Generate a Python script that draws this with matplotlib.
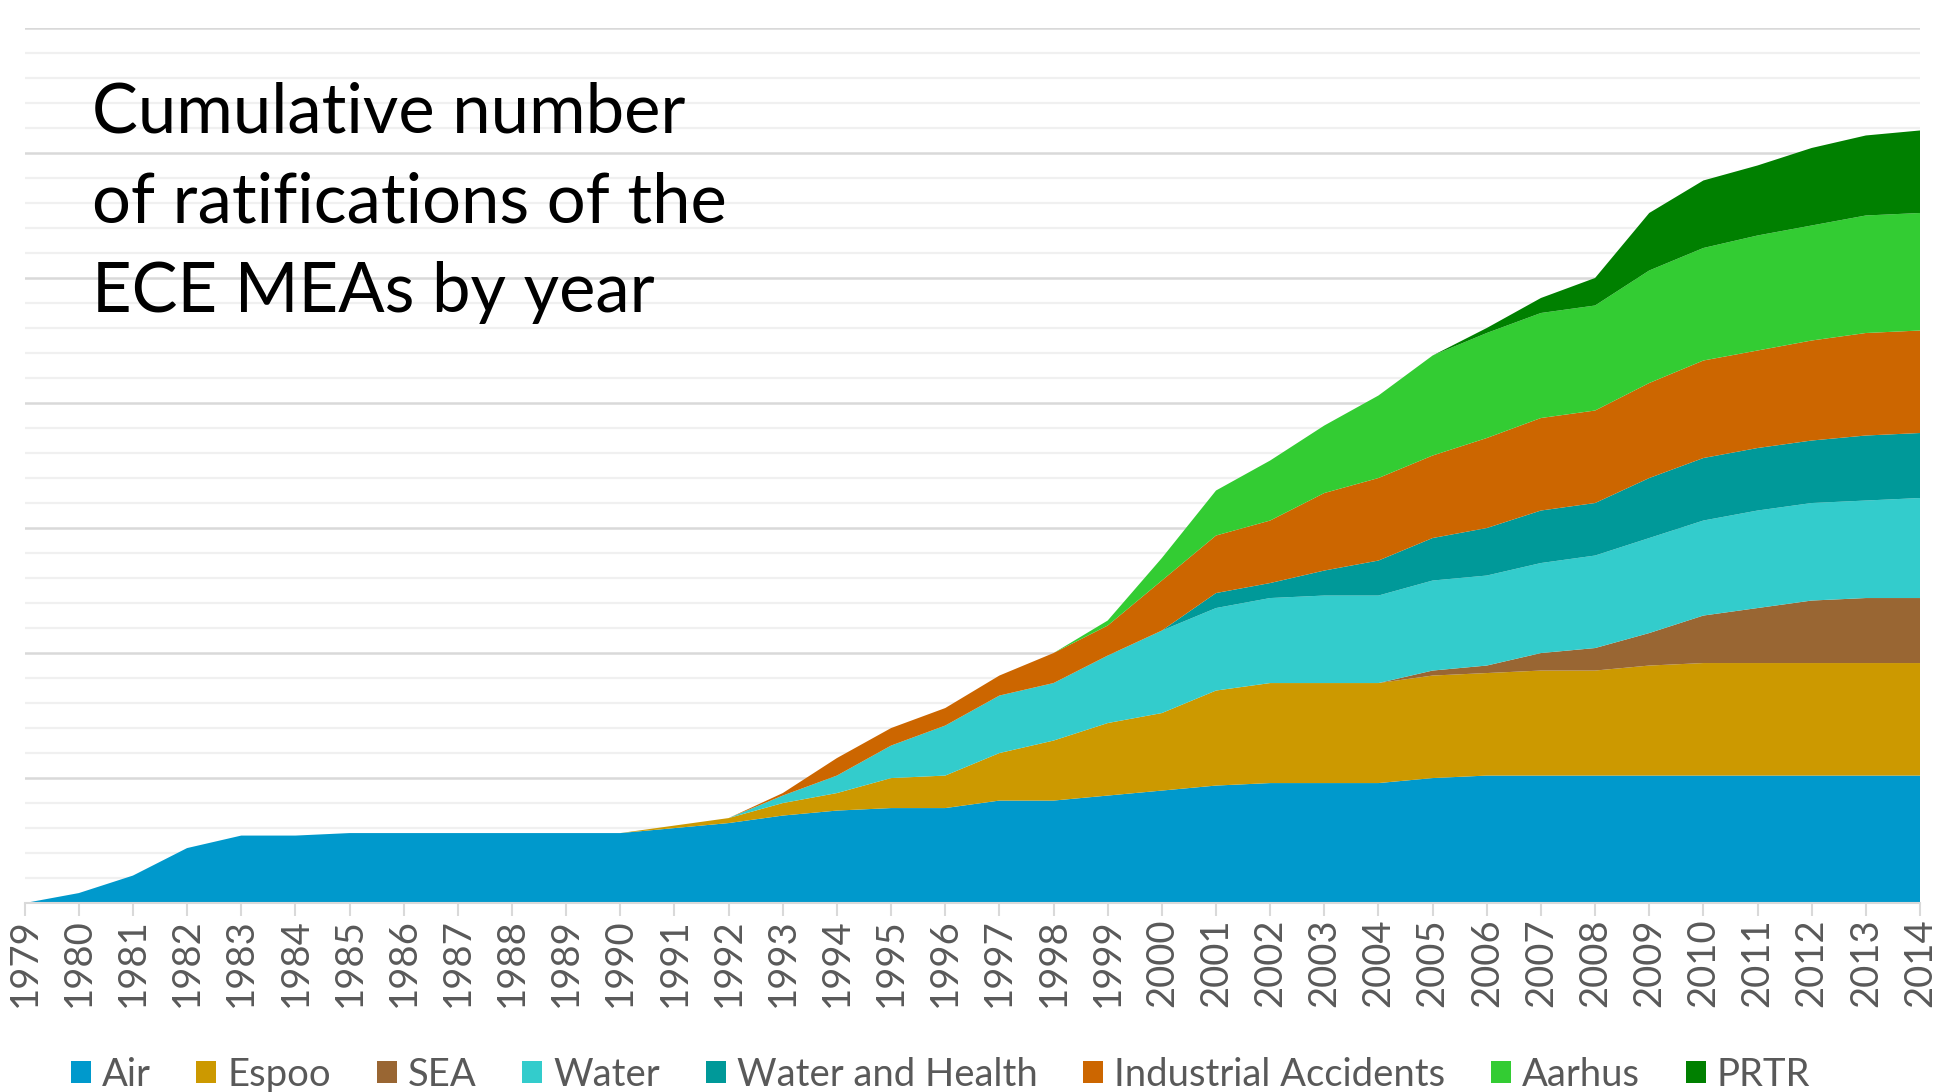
import matplotlib
matplotlib.use("Agg")
import matplotlib.pyplot as plt
from matplotlib.patches import Patch
from matplotlib.ticker import MultipleLocator

# Cumulative ratifications per convention, 1979-2014
years = list(range(1979, 2015))

air = [0, 4, 11, 22, 27, 27, 28, 28, 28, 28, 28, 28,
       30, 32, 35, 37, 38, 38, 41, 41, 43, 45,
       47, 48, 48, 48, 50, 51, 51, 51, 51, 51,
       51, 51, 51, 51]
espoo = [0, 0, 0, 0, 0, 0, 0, 0, 0, 0, 0, 0,
         1, 2, 5, 7, 12, 13, 19, 24, 29, 31,
         38, 40, 40, 40, 41, 41, 42, 42, 44, 45,
         45, 45, 45, 45]
sea = [0, 0, 0, 0, 0, 0, 0, 0, 0, 0, 0, 0,
       0, 0, 0, 0, 0, 0, 0, 0, 0, 0,
       0, 0, 0, 0, 2, 3, 7, 9, 13, 19,
       22, 25, 26, 26]
water = [0, 0, 0, 0, 0, 0, 0, 0, 0, 0, 0, 0,
         0, 0, 3, 7, 13, 20, 23, 23, 27, 33,
         33, 34, 35, 35, 36, 36, 36, 37, 38, 38,
         39, 39, 39, 40]
water_health = [0, 0, 0, 0, 0, 0, 0, 0, 0, 0, 0, 0,
                0, 0, 0, 0, 0, 0, 0, 0, 0, 0,
                6, 6, 10, 14, 17, 19, 21, 21, 24, 25,
                25, 25, 26, 26]
industrial = [0, 0, 0, 0, 0, 0, 0, 0, 0, 0, 0, 0,
              0, 0, 1, 7, 7, 7, 8, 12, 12, 20,
              23, 25, 31, 33, 33, 36, 37, 37, 38, 39,
              39, 40, 41, 41]
aarhus = [0, 0, 0, 0, 0, 0, 0, 0, 0, 0, 0, 0,
          0, 0, 0, 0, 0, 0, 0, 0, 2, 9,
          18, 24, 27, 33, 40, 42, 42, 42, 45, 45,
          46, 46, 47, 47]
prtr = [0, 0, 0, 0, 0, 0, 0, 0, 0, 0, 0, 0,
        0, 0, 0, 0, 0, 0, 0, 0, 0, 0,
        0, 0, 0, 0, 0, 2, 6, 11, 23, 27,
        28, 31, 32, 33]

labels = ["Air", "Espoo", "SEA", "Water", "Water and Health",
          "Industrial Accidents", "Aarhus", "PRTR"]
colores = ["#0099CC", "#CC9900", "#996633", "#33CCCC", "#009999",
           "#CC6600", "#33CC33", "#008000"]

plt.rcParams["font.family"] = ["Lato", "DejaVu Sans"]

fig = plt.figure(figsize=(19.39, 10.92), dpi=100)
ax = fig.add_axes([0.0127, 0.173, 0.9775, 0.8014])

ax.stackplot(years, air, espoo, sea, water, water_health, industrial,
             aarhus, prtr, colors=colores, linewidth=0)

ax.set_xlim(1979, 2014)
ax.set_ylim(0, 350)
ax.yaxis.set_major_locator(MultipleLocator(50))
ax.yaxis.set_minor_locator(MultipleLocator(10))
ax.grid(axis="y", which="minor", color="#F0F0F0", linewidth=1.6)
ax.grid(axis="y", which="major", color="#D9D9D9", linewidth=1.8)
ax.set_axisbelow(True)
ax.tick_params(axis="y", which="both", left=False, labelleft=False)

ax.set_xticks(years)
ax.set_xticklabels([str(y) for y in years], rotation=90)
ax.tick_params(axis="x", length=9, width=1.5, color="#D9D9D9",
               labelsize=27.5, labelcolor="#595959", pad=2)

for lado in ["left", "right", "top"]:
    ax.spines[lado].set_visible(False)
ax.spines["bottom"].set_color("#D9D9D9")
ax.spines["bottom"].set_linewidth(1.5)

fig.text(0.0472, 0.925, "Cumulative number\nof ratifications of the\nECE MEAs by year",
         fontsize=49.5, color="black", va="top", ha="left", linespacing=1.52)

handles = [Patch(facecolor=c, edgecolor="none") for c in colores]
fig.legend(handles, labels, loc="center", bbox_to_anchor=(0.485, 0.016),
           ncol=8, frameon=False, fontsize=27.5, labelcolor="#595959",
           handlelength=0.52, handleheight=0.52, handletextpad=0.29,
           columnspacing=1.2)

fig.savefig("out.png", dpi=100)
